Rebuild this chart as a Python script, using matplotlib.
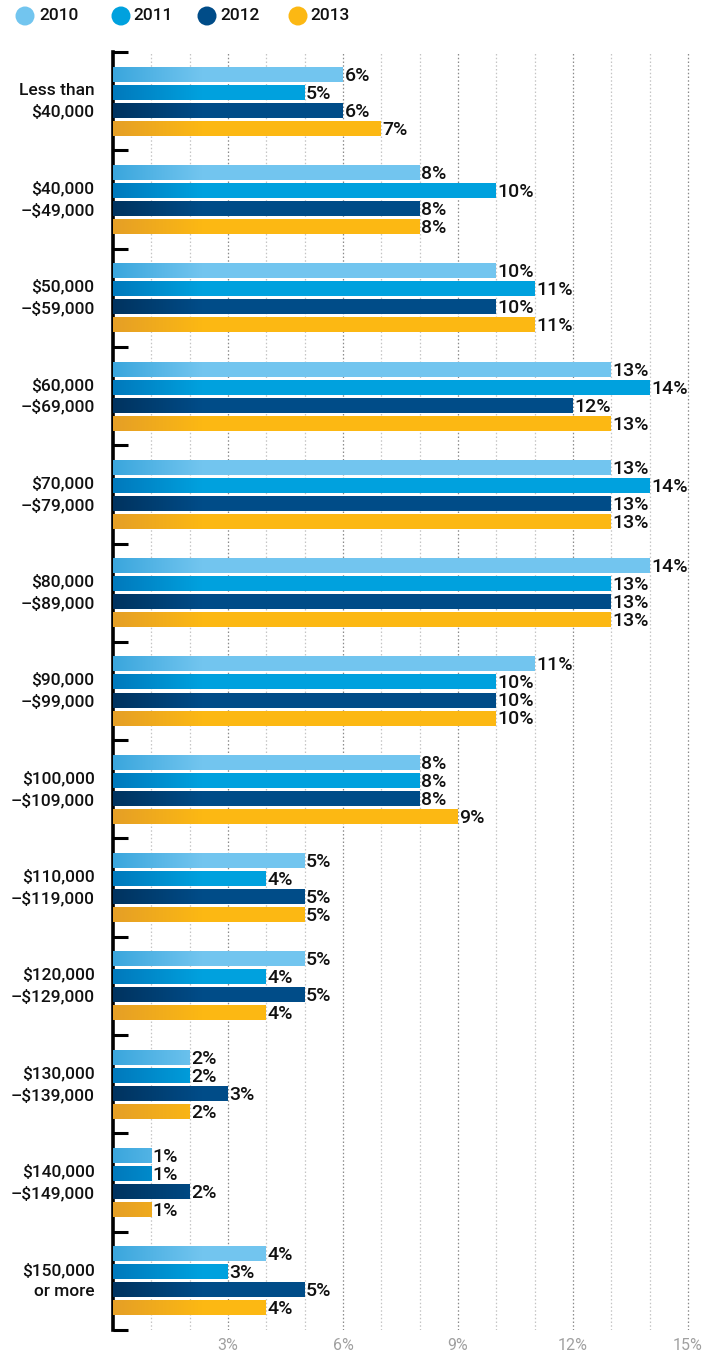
import matplotlib
matplotlib.use("Agg")
import matplotlib.pyplot as plt
import numpy as np
from matplotlib.colors import LinearSegmentedColormap
from matplotlib.patches import Circle

plt.rcParams['font.family'] = ['Roboto', 'DejaVu Sans']

categories = ["Less than\n$40,000", "$40,000\n\u2013$49,000", "$50,000\n\u2013$59,000",
              "$60,000\n\u2013$69,000", "$70,000\n\u2013$79,000", "$80,000\n\u2013$89,000",
              "$90,000\n\u2013$99,000", "$100,000\n\u2013$109,000", "$110,000\n\u2013$119,000",
              "$120,000\n\u2013$129,000", "$130,000\n\u2013$139,000", "$140,000\n\u2013$149,000",
              "$150,000\nor more"]
years = ["2010", "2011", "2012", "2013"]
v2010 = [6, 8, 10, 13, 13, 14, 11, 8, 5, 5, 2, 1, 4]
v2011 = [5, 10, 11, 14, 14, 13, 10, 8, 4, 4, 2, 1, 3]
v2012 = [6, 8, 10, 12, 13, 13, 10, 8, 5, 5, 3, 2, 5]
v2013 = [7, 8, 11, 13, 13, 13, 10, 9, 5, 4, 2, 1, 4]
series = [v2010, v2011, v2012, v2013]
xticks = [3, 6, 9, 12, 15]
xticklabels = ["3%", "6%", "9%", "12%", "15%"]

solid = ["#72C5EF", "#00A1DE", "#004C88", "#FCB813"]
start = ["#3AA6DD", "#0079BC", "#00335F", "#E59F26"]

W, H = 725, 1354
fig = plt.figure(figsize=(W / 100, H / 100), dpi=100)
x0, px_per = 113, 38.33
ax_left = x0 / W
ax_w = (W - x0) / W
xmax = (W - x0) / px_per
top_px, bot_px = 52, 1330
ax = fig.add_axes([ax_left, (H - bot_px) / H, ax_w, (bot_px - top_px) / H])
n = len(categories)

for g in range(1, 16):
    col = "#8A8A8A" if g % 3 == 0 else "#C4C4C4"
    ax.axvline(g, color=col, lw=0.9, ls=(0, (1.2, 1.8)), zorder=0)

step = 18 / 98.3
bh = 15 / 98.3
grad_len = 2.3
for k, vals in enumerate(series):
    cmap = LinearSegmentedColormap.from_list("g%d" % k, [start[k], solid[k]])
    grad = np.linspace(0, 1, 256).reshape(1, -1)
    for i, v in enumerate(vals):
        yc = i + 0.5 + (k - 1.5) * step
        bars = ax.barh(yc, v, height=bh, color=solid[k], edgecolor="none", zorder=2)
        im = ax.imshow(grad, cmap=cmap, aspect="auto",
                       extent=[0, grad_len, yc + bh / 2, yc - bh / 2], zorder=3,
                       interpolation="bilinear")
        im.set_clip_path(bars[0])
        ax.text(v + 0.04, yc + 0.015, "%d%%" % v, va="center", ha="left",
                fontsize=14, fontweight="medium", color="#111111", zorder=4)

ax.set_xlim(0, xmax)
ax.set_ylim(n, 0)

for s in ["top", "right", "bottom"]:
    ax.spines[s].set_visible(False)
ax.spines["left"].set_linewidth(2.6)
ax.spines["left"].set_color("black")

ax.set_yticks(range(n + 1))
ax.set_yticklabels([])
ax.tick_params(axis="y", direction="in", length=11, width=2.2, color="black")
ax.set_xticks(xticks)
ax.set_xticklabels(xticklabels)
ax.tick_params(axis="x", length=0, labelsize=11.5, labelcolor="#A0A0A0", pad=6)

for i, c in enumerate(categories):
    ax.text(-0.48, i + 0.5, c, ha="right", va="center", fontsize=12.5,
            fontweight="medium", color="#111111", linespacing=1.5, clip_on=False)

# legend
lx = [25, 121, 207, 298]
tx = [39, 133, 220, 310]
for k, y in enumerate(years):
    fig.patches.append(Circle((lx[k], H - 16), 9.5, transform=None,
                              facecolor=solid[k], edgecolor="none"))
    fig.text(tx[k] / W, 1 - 16 / H, y, ha="left", va="center", fontsize=12.5,
             fontweight="medium", color="#111111")

fig.savefig("out.png", dpi=100)
